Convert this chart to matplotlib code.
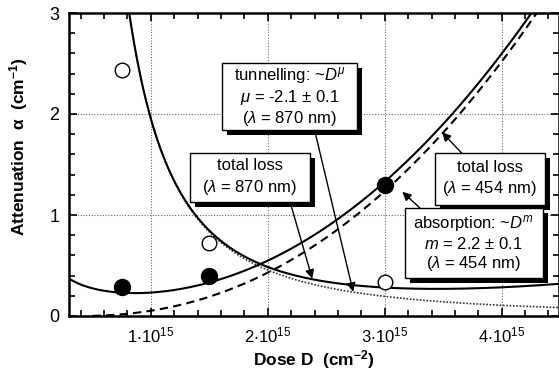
import numpy as np
import matplotlib
matplotlib.use("Agg")
import matplotlib.pyplot as plt
from matplotlib.patches import Rectangle
from matplotlib.ticker import MultipleLocator, FixedLocator, FixedFormatter

plt.rcParams['font.family'] = ['Liberation Sans', 'DejaVu Sans']
plt.rcParams['mathtext.fontset'] = 'custom'
plt.rcParams['mathtext.rm'] = 'Liberation Sans'
plt.rcParams['mathtext.it'] = 'Liberation Sans:italic'
plt.rcParams['mathtext.bf'] = 'Liberation Sans:bold'

# measured attenuation, dose in units of 1e15 cm^-2
dose_870 = [0.75, 1.5, 3.0]
alpha_870 = [2.44, 0.72, 0.34]
dose_454 = [0.75, 1.5, 3.0]
alpha_454 = [0.29, 0.40, 1.30]

# fit parameters
mu = -2.1          # tunnelling exponent (870 nm)
tunnel_amp = 1.95
m_exp = 2.2        # absorption exponent (454 nm)
abs_amp = 0.1486
abs_onset = 0.38
bg454_amp = 0.18
bg454_exp = -0.6
abs870_amp = 0.0105

xticks = [1, 2, 3, 4]
xticklabels = [r'$\mathregular{%d{\cdot}10^{15}}$' % v for v in xticks]

D = np.linspace(0.3, 4.6, 600)
tunnel = tunnel_amp * D ** mu
absorp = abs_amp * np.clip(D - abs_onset, 0, None) ** m_exp
total_870 = tunnel + abs870_amp * np.clip(D - abs_onset, 0, None) ** m_exp
total_454 = bg454_amp * D ** bg454_exp + absorp

fig = plt.figure(figsize=(5.59, 3.84), dpi=100)
ax = fig.add_axes([69 / 559, 68 / 384, 490 / 559, 303 / 384])

ax.plot(D, tunnel, color='#333333', lw=1.2, ls=(0, (1, 1)))
ax.plot(D, total_870, color='k', lw=1.5)
ax.plot(D[D > 0.5], absorp[D > 0.5], color='k', lw=1.5, ls=(0, (4, 2.5)))
ax.plot(D, total_454, color='k', lw=1.5)

ax.plot(dose_870, alpha_870, 'o', ms=10.5, mfc='white', mec='k', mew=1.0, zorder=5)
ax.plot(dose_454, alpha_454, 'o', ms=11.5, mfc='k', mec='k', zorder=5)

ax.set_xlim(0.3, 4.49)
ax.set_ylim(0, 3)

ax.xaxis.set_major_locator(FixedLocator(xticks))
ax.xaxis.set_major_formatter(FixedFormatter(xticklabels))
ax.xaxis.set_minor_locator(MultipleLocator(0.2))
ax.yaxis.set_major_locator(MultipleLocator(1))
ax.yaxis.set_minor_locator(MultipleLocator(0.2))
ax.tick_params(which='both', direction='in', top=True, right=True, width=1.2)
ax.tick_params(which='major', length=6)
ax.tick_params(which='minor', length=4)
ax.tick_params(axis='x', labelsize=12, pad=7)
ax.tick_params(axis='y', labelsize=13, pad=7)
for s in ax.spines.values():
    s.set_linewidth(1.8)

ax.grid(True, which='major', color='#666666', ls=(0, (1, 1.5)), lw=0.8)

ax.set_xlabel(r'Dose D  (cm$^{\mathbf{-2}}$)', fontsize=12.5, fontweight='bold')
ax.set_ylabel(r'Attenuation  $\mathregular{\alpha}$  (cm$^{\mathbf{-1}}$)', fontsize=12.5, fontweight='bold')
ax.xaxis.set_label_coords(0.5, -0.105)
ax.yaxis.set_label_coords(-0.08, 0.56)

# drop shadow offset in data units (a few pixels right and down)
sx = 5 * (4.49 - 0.3) / 490
sy = 5 * 3.0 / 303


def box(x0, x1, y0, y1, text, spacing):
    shadow = Rectangle((x0 + sx, y0 - sy), x1 - x0, y1 - y0,
                       facecolor='black', edgecolor='none', zorder=6)
    ax.add_artist(shadow)
    front = Rectangle((x0, y0), x1 - x0, y1 - y0,
                      facecolor='white', edgecolor='black', lw=1.0, zorder=6.5)
    ax.add_artist(front)
    ax.text((x0 + x1) / 2, (y0 + y1) / 2, text, ha='center', va='center',
            fontsize=12, linespacing=spacing, zorder=7)


def arrow(start, tip):
    ax.annotate('', xy=tip, xytext=start, zorder=4,
                arrowprops=dict(arrowstyle='-|>', color='k', lw=1.0,
                                mutation_scale=13, shrinkA=0, shrinkB=0))


arrow((2.40, 1.84), (2.73, 0.24))
arrow((2.19, 1.13), (2.38, 0.37))
arrow((3.66, 1.61), (3.49, 1.82))
arrow((3.30, 1.07), (3.15, 1.23))

box(1.607, 2.761, 1.842, 2.505,
    'tunnelling: ~$D^{\\mu}$\n$\\mu$ = -2.1 $\\pm$ 0.1\n($\\lambda$ = 870 nm)', 1.15)
box(1.333, 2.359, 1.129, 1.614, 'total loss\n($\\lambda$ = 870 nm)', 1.35)
box(3.427, 4.368, 1.099, 1.614, 'total loss\n($\\lambda$ = 454 nm)', 1.35)
box(3.171, 4.350, 0.376, 1.069,
    'absorption: ~$D^{m}$\n$m$ = 2.2 $\\pm$ 0.1\n($\\lambda$ = 454 nm)', 1.15)

fig.savefig('out.png', dpi=100)
